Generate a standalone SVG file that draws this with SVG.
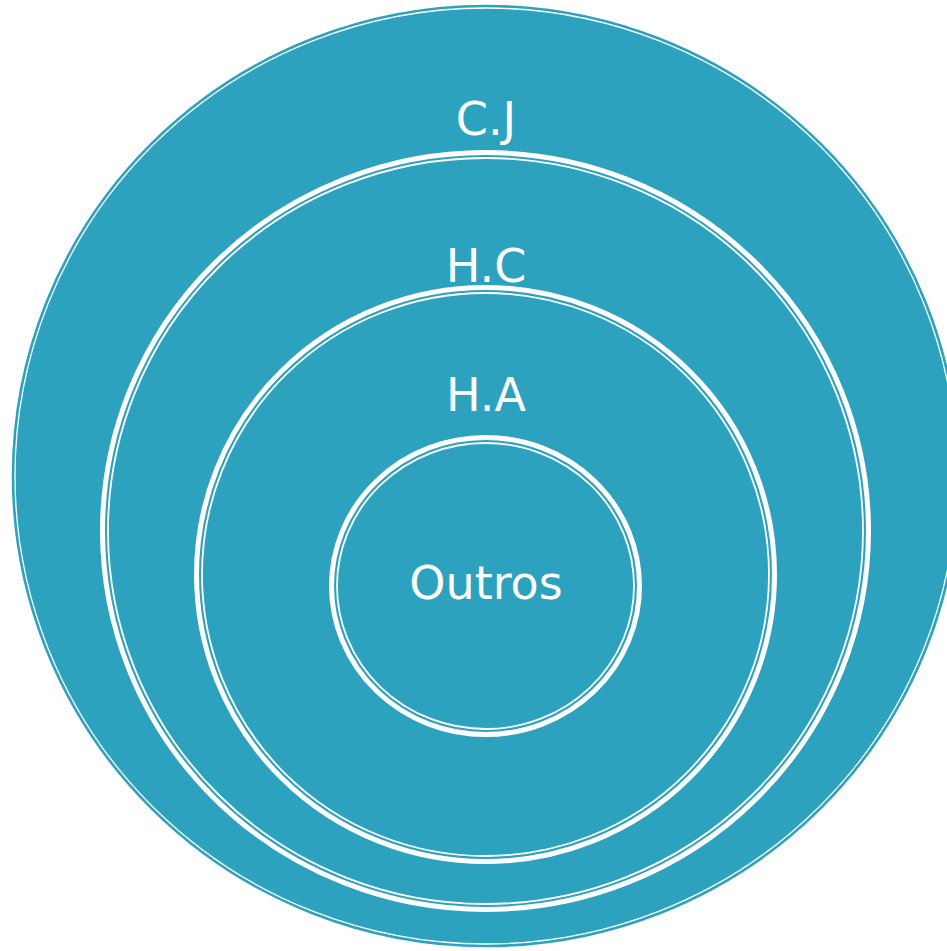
<svg xmlns="http://www.w3.org/2000/svg" width="947" height="951" viewBox="0 0 947 951">
<style>
.thick{fill:#2da2bf;stroke:#ffffff;stroke-width:5}
.thin{fill:none;stroke:#ffffff;stroke-width:1.8}
.lbl{font-family:"DejaVu Sans","Open Sans",sans-serif;font-size:46px;fill:#ffffff;text-anchor:middle}
</style>
<rect width="947" height="951" fill="#ffffff"/>
<g id="node-cj">
<ellipse cx="486" cy="476" rx="473.5" ry="470.5" fill="#2da2bf" stroke="#2da2bf" stroke-width="1.5"/>
<ellipse cx="486" cy="476" rx="471" ry="468" fill="none" stroke="#ffffff" stroke-width="1.3"/>
<text class="lbl" x="486" y="135">C.J</text>
</g>
<g id="node-hc">
<ellipse class="thick" cx="485.5" cy="531" rx="383" ry="378.5"/>
<ellipse class="thin" cx="485.5" cy="531" rx="377.5" ry="373"/>
<text class="lbl" x="486" y="282">H.C</text>
</g>
<g id="node-ha">
<ellipse class="thick" cx="485.5" cy="574.5" rx="289" ry="287"/>
<ellipse class="thin" cx="485.5" cy="574.5" rx="283.5" ry="281.5"/>
<text class="lbl" x="486" y="411">H.A</text>
</g>
<g id="node-outros">
<ellipse class="thick" cx="485.5" cy="586" rx="154" ry="148.5"/>
<ellipse class="thin" cx="485.5" cy="586" rx="148.5" ry="143"/>
<text class="lbl" x="486" y="599">Outros</text>
</g>
<g id="connectors"></g>
</svg>
